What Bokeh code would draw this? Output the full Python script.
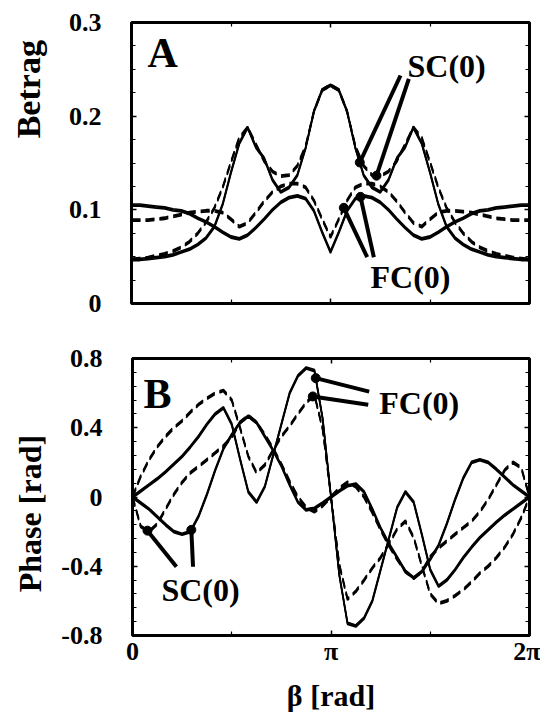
import math
from bokeh.plotting import figure
from bokeh.models import Range1d, FixedTicker, LinearAxis
from bokeh.layouts import column, row
from bokeh.embed import file_html
from bokeh.resources import INLINE
from bokeh.core.properties import value

PI = math.pi
# beta grid: 0 .. 2*pi in steps of pi/24
BETA = [k * PI / 24 for k in range(49)]

# ---- Panel A: Betrag ----
A_SC_SOLID = [0.047, 0.047, 0.048, 0.049, 0.050, 0.052, 0.055, 0.058, 0.063, 0.070, 0.082, 0.106, 0.140,
              0.171, 0.188, 0.167, 0.155, 0.132, 0.119, 0.124, 0.137, 0.166, 0.205, 0.228, 0.233,
              0.228, 0.205, 0.166, 0.137, 0.124, 0.119, 0.132, 0.155, 0.167, 0.188, 0.171, 0.140,
              0.106, 0.082, 0.070, 0.063, 0.058, 0.055, 0.052, 0.050, 0.049, 0.048, 0.047, 0.047]
A_SC_DASH = [0.047, 0.048, 0.049, 0.051, 0.053, 0.056, 0.060, 0.066, 0.075, 0.087, 0.102, 0.124, 0.151,
             0.177, 0.188, 0.170, 0.152, 0.141, 0.136, 0.137, 0.147, 0.168, 0.205, 0.228, 0.233,
             0.228, 0.205, 0.168, 0.147, 0.137, 0.136, 0.141, 0.152, 0.170, 0.188, 0.177, 0.151,
             0.124, 0.102, 0.087, 0.075, 0.066, 0.060, 0.056, 0.053, 0.051, 0.049, 0.048, 0.047]
A_FC_SOLID = [0.105, 0.105, 0.104, 0.103, 0.102, 0.100, 0.099, 0.096, 0.091, 0.087, 0.082, 0.076, 0.071,
              0.069, 0.073, 0.081, 0.090, 0.100, 0.108, 0.113, 0.115, 0.112, 0.099, 0.076, 0.055,
              0.076, 0.099, 0.112, 0.115, 0.113, 0.108, 0.100, 0.090, 0.081, 0.073, 0.069, 0.071,
              0.076, 0.082, 0.087, 0.091, 0.096, 0.099, 0.100, 0.102, 0.103, 0.104, 0.105, 0.105]
A_FC_DASH = [0.089, 0.089, 0.089, 0.090, 0.091, 0.093, 0.095, 0.097, 0.098, 0.099, 0.099, 0.097, 0.090,
             0.082, 0.086, 0.097, 0.109, 0.119, 0.125, 0.128, 0.128, 0.124, 0.110, 0.090, 0.071,
             0.090, 0.110, 0.124, 0.128, 0.128, 0.125, 0.119, 0.109, 0.097, 0.086, 0.082, 0.090,
             0.097, 0.099, 0.099, 0.098, 0.097, 0.095, 0.093, 0.091, 0.090, 0.089, 0.089, 0.089]

# ---- Panel B: Phase [rad] ----
B_FC_SOLID = [0, 0.035, 0.07, 0.105, 0.145, 0.19, 0.235, 0.29, 0.35, 0.42, 0.48, 0.515, 0.42,
              0.22, 0.03, -0.03, 0.06, 0.24, 0.42, 0.60, 0.70, 0.745, 0.73, 0.45, 0,
              -0.45, -0.73, -0.745, -0.70, -0.60, -0.42, -0.24, -0.06, 0.03, -0.03, -0.22, -0.42,
              -0.515, -0.48, -0.42, -0.35, -0.29, -0.235, -0.19, -0.145, -0.105, -0.07, -0.035, 0]
B_FC_DASH = [0, 0.12, 0.215, 0.29, 0.35, 0.40, 0.44, 0.49, 0.535, 0.57, 0.60, 0.615, 0.56,
             0.40, 0.235, 0.14, 0.185, 0.27, 0.35, 0.41, 0.48, 0.545, 0.59, 0.39, 0,
             -0.39, -0.59, -0.545, -0.48, -0.41, -0.35, -0.27, -0.185, -0.14, -0.235, -0.40, -0.56,
             -0.615, -0.60, -0.57, -0.535, -0.49, -0.44, -0.40, -0.35, -0.29, -0.215, -0.12, 0]
B_SC_SOLID = [0, -0.035, -0.07, -0.115, -0.16, -0.20, -0.215, -0.20, -0.11, 0.015, 0.155, 0.28, 0.36,
              0.43, 0.467, 0.43, 0.35, 0.27, 0.18, 0.07, -0.03, -0.075, -0.065, -0.035, 0,
              0.035, 0.065, 0.075, 0.03, -0.07, -0.18, -0.27, -0.35, -0.43, -0.467, -0.43, -0.36,
              -0.28, -0.155, -0.015, 0.11, 0.20, 0.215, 0.20, 0.16, 0.115, 0.07, 0.035, 0]
B_SC_DASH = [0, -0.17, -0.20, -0.155, -0.07, 0.015, 0.085, 0.14, 0.177, 0.215, 0.255, 0.295, 0.345,
             0.43, 0.47, 0.43, 0.36, 0.28, 0.19, 0.09, 0.0, -0.06, -0.085, -0.05, 0,
             0.05, 0.085, 0.06, 0.0, -0.09, -0.19, -0.28, -0.36, -0.43, -0.47, -0.43, -0.345,
             -0.295, -0.255, -0.215, -0.177, -0.14, -0.085, -0.015, 0.07, 0.155, 0.20, 0.17, 0]

# ---- ticks ----
X_TICKS = [0, PI, 2 * PI]
X_TICK_LABELS = ["0", "\u03c0", "2\u03c0"]
X_MINOR = [PI / 2, 3 * PI / 2]
A_YTICKS = [0, 0.1, 0.2, 0.3]
A_YLABELS = ["0", "0.1", "0.2", "0.3"]
A_YMINOR = [0.025, 0.05, 0.075, 0.125, 0.15, 0.175, 0.225, 0.25, 0.275]
B_YTICKS = [-0.8, -0.4, 0, 0.4, 0.8]
B_YLABELS = ["-0.8", "-0.4", "0", "0.4", "0.8"]
B_YMINOR = [-0.72, -0.64, -0.56, -0.48, -0.32, -0.24, -0.16, -0.08,
            0.08, 0.16, 0.24, 0.32, 0.48, 0.56, 0.64, 0.72]

FONT = "Liberation Serif"
DASH = "9 5"
STRIP_W = 58


def style_axis(ax, show_labels, ticks, minor, labels):
    ax.ticker = FixedTicker(ticks=ticks, minor_ticks=minor)
    ax.axis_line_color = None
    ax.major_tick_in = 5
    ax.major_tick_out = 0
    ax.minor_tick_in = 4
    ax.minor_tick_out = 0
    ax.major_tick_line_width = 1.5
    ax.minor_tick_line_width = 1.2
    ax.major_tick_line_color = "black"
    ax.minor_tick_line_color = "black"
    ax.major_label_text_font = FONT
    ax.major_label_text_font_style = "bold"
    ax.major_label_text_color = "black"
    if show_labels:
        ax.major_label_overrides = dict(zip(ticks, labels))
        ax.major_label_text_font_size = "26px"
    else:
        ax.major_label_overrides = {t: "" for t in ticks}
        ax.major_label_text_font_size = "1px"
        ax.major_label_standoff = 0


def make_fig(height, yr, border_top, border_bottom):
    p = figure(width=540 - STRIP_W, height=height, x_range=Range1d(0, 2 * PI), y_range=Range1d(*yr),
               output_backend="svg", toolbar_location=None,
               min_border_left=131 - STRIP_W, min_border_right=11,
               min_border_top=border_top, min_border_bottom=border_bottom)
    p.grid.visible = False
    p.outline_line_color = "black"
    p.outline_line_width = 3
    p.background_fill_color = "white"
    p.border_fill_color = "white"
    return p


def make_strip(height, label, cx, bottom_y, size):
    # narrow canvas holding the rotated y-axis title (pixel coordinates, text starts at bottom_y)
    s = figure(width=STRIP_W, height=height, x_range=Range1d(0, STRIP_W), y_range=Range1d(0, height),
               output_backend="svg", toolbar_location=None, x_axis_location=None,
               y_axis_location=None, min_border=0)
    s.grid.visible = False
    s.outline_line_color = None
    s.border_fill_color = "white"
    s.text(x=[cx], y=[height - bottom_y], text=[label], angle=PI / 2, text_align="left",
           text_baseline="middle", text_font=value(FONT), text_font_style="bold",
           text_font_size=size, text_color="black")
    return s


def draw_curve(p, ys, dash, px):
    # thick "vertical pen" look: three vertically shifted thin copies
    for off in (-1.1, 0.0, 1.1):
        p.line(BETA, [v + off * px for v in ys], line_color="black", line_width=1.6,
               line_dash=dash)


def interp(xq, ys):
    step = PI / 24
    k = int(xq // step)
    t = (xq - k * step) / step
    return ys[k] * (1 - t) + ys[k + 1] * t


def pointer(p, x0, y0, x1, y1):
    p.segment(x0=[x0], y0=[y0], x1=[x1], y1=[y1], line_color="black", line_width=4)
    p.scatter([x1], [y1], size=9, color="black")


def text(p, x, y, s, size, px):
    # baseline correction (~0.31 em) measured from the rendered output
    fs = float(size.replace("px", ""))
    p.text(x=[x], y=[y + 0.31 * fs * px], text=[s], text_font=value(FONT), text_font_style="bold",
           text_font_size=size, text_color="black", text_baseline="alphabetic",
           text_align="left")


# ================= Panel A =================
pa = make_fig(330, (0, 0.3), 22, 27)
pxA = 0.3 / 281
style_axis(pa.yaxis[0], True, A_YTICKS, A_YMINOR, A_YLABELS)
pa.yaxis[0].major_label_standoff = 30
style_axis(pa.xaxis[0], False, X_TICKS, X_MINOR, X_TICK_LABELS)
ra = LinearAxis()
style_axis(ra, False, A_YTICKS, A_YMINOR, A_YLABELS)
pa.add_layout(ra, "right")
ta = LinearAxis()
style_axis(ta, False, X_TICKS, X_MINOR, X_TICK_LABELS)
pa.add_layout(ta, "above")

draw_curve(pa, A_FC_SOLID, "solid", pxA)
draw_curve(pa, A_FC_DASH, DASH, pxA)
draw_curve(pa, A_SC_SOLID, "solid", pxA)
draw_curve(pa, A_SC_DASH, DASH, pxA)

pointer(pa, 4.247, 0.2434, 3.604, interp(3.604, A_SC_SOLID))
pointer(pa, 4.378, 0.2399, 3.868, interp(3.868, A_SC_DASH))
pointer(pa, 3.721, 0.0494, 3.352, interp(3.352, A_FC_DASH))
pointer(pa, 3.826, 0.0494, 3.615, interp(3.615, A_FC_SOLID))
text(pa, 4.357, 0.2434, "SC(0)", "32px", pxA)
text(pa, 3.773, 0.0174, "FC(0)", "32px", pxA)
text(pa, 0.253, 0.254, "A", "42px", pxA)
sa = make_strip(330, "Betrag", 28, 136, "34px")

# ================= Panel B =================
pb = make_fig(384, (-0.8, 0.8), 28, 74)
pxB = 1.6 / 282
style_axis(pb.yaxis[0], True, B_YTICKS, B_YMINOR, B_YLABELS)
pb.yaxis[0].major_label_standoff = 30
style_axis(pb.xaxis[0], True, X_TICKS, X_MINOR, X_TICK_LABELS)
pb.xaxis[0].major_label_standoff = 1
pb.xaxis[0].axis_label = "\u03b2 [rad]"
pb.xaxis[0].axis_label_standoff = 10
pb.xaxis[0].axis_label_text_font = FONT
pb.xaxis[0].axis_label_text_font_style = "bold"
pb.xaxis[0].axis_label_text_font_size = "30px"
pb.xaxis[0].axis_label_text_color = "black"
rb = LinearAxis()
style_axis(rb, False, B_YTICKS, B_YMINOR, B_YLABELS)
pb.add_layout(rb, "right")
tb = LinearAxis()
style_axis(tb, False, X_TICKS, X_MINOR, X_TICK_LABELS)
pb.add_layout(tb, "above")

draw_curve(pb, B_FC_SOLID, "solid", pxB)
draw_curve(pb, B_FC_DASH, DASH, pxB)
draw_curve(pb, B_SC_SOLID, "solid", pxB)
draw_curve(pb, B_SC_DASH, DASH, pxB)

pointer(pb, 3.746, 0.609, 2.90, interp(2.90, B_FC_SOLID))
pointer(pb, 3.731, 0.533, 2.853, interp(2.853, B_FC_DASH))
pointer(pb, 0.695, -0.403, 0.237, interp(0.237, B_SC_DASH))
pointer(pb, 0.958, -0.403, 0.931, interp(0.931, B_SC_SOLID))
text(pb, 3.905, 0.486, "FC(0)", "32px", pxB)
text(pb, 0.458, -0.592, "SC(0)", "32px", pxB)
text(pb, 0.174, 0.522, "B", "42px", pxB)
sb = make_strip(384, "Phase [rad]", 29, 324, "32px")

layout = column(row(sa, pa, spacing=0), row(sb, pb, spacing=0), spacing=0)
open("out.html", "w").write(file_html(layout, INLINE))
